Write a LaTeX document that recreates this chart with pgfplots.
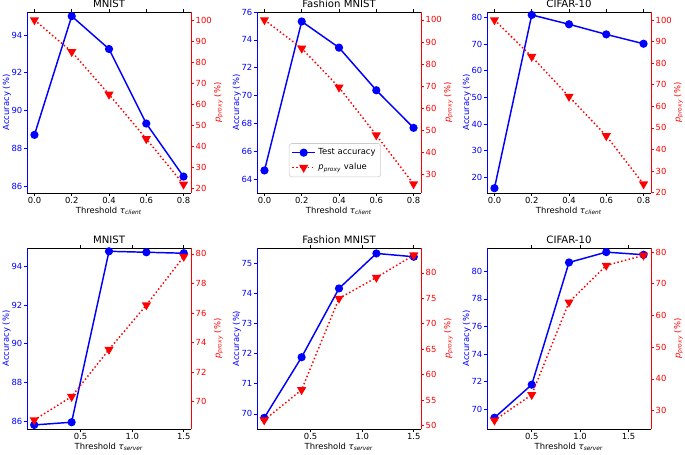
\documentclass[border=0pt]{standalone}
\usepackage{fontspec}
\setmainfont{DejaVu Sans}
\usepackage{pgfplots}
\pgfplotsset{compat=1.18}

\newcommand{\tk}{\fontsize{6.3}{7.5}\selectfont}
\newcommand{\ttl}{\fontsize{7.6}{9}\selectfont}
\newcommand{\pp}{\textit{p}\textsubscript{\textit{proxy}}}
\newcommand{\thr}[1]{\textit{τ}\textsubscript{\textit{#1}}}

\pgfplotsset{
  panel/.style={
    scale only axis, width=123pt, height=135.75pt, anchor=south west,
    tick align=outside, major tick length=2.3pt,
    every tick/.style={line width=0.5pt},
    /pgf/number format/assume math mode=true,
    tick label style={font=\tk, inner sep=1pt},
    every axis title shift=0pt,
    title style={at={(0.5,1)}, anchor=base, yshift=3.6pt, font=\ttl, inner sep=0pt},
    clip=false,
  },
  leftax/.style={
    panel, axis x line*=box, axis y line*=left,
    axis line style={line width=0.5pt},
    y axis line style={blue},
    ytick style={blue}, yticklabel style={text=blue},
    ylabel={Accuracy (\%)},
    ylabel style={at={(rel axis cs:0,0.5)}, anchor=base, yshift=13.5pt,
      inner sep=0pt, font=\tk, text=blue},
    xlabel style={at={(rel axis cs:0.5,0)}, anchor=base, yshift=-15pt,
      inner sep=0pt, font=\tk},
  },
  rightax/.style={
    panel, axis x line=none, axis y line*=right,
    axis line style={line width=0.5pt},
    y axis line style={red},
    ytick style={red}, yticklabel style={text=red},
    ylabel={\pp{} (\%)},
    ylabel style={at={(rel axis cs:1,0.5)}, anchor=base, yshift=-22pt,
      inner sep=0pt, font=\tk, text=red},
  },
  toprow/.style={xmin=-0.04, xmax=0.84, xtick={0,0.2,...,0.8},
    xticklabel style={/pgf/number format/.cd, fixed, fixed zerofill, precision=1},
    xlabel={Threshold \thr{client}}},
  botrow/.style={xtick={0.5,1.0,1.5},
    xticklabel style={/pgf/number format/.cd, fixed, fixed zerofill, precision=1},
    xlabel={Threshold \thr{server}}},
  acc/.style={blue, line width=1.1pt, mark=*, mark size=2.5pt},
  prx/.style={red, line width=1.1pt, dash pattern=on 1.1pt off 1.8pt,
    mark=triangle*, mark size=2.9pt, mark options={solid, rotate=180}},
}

\begin{document}
\begin{tikzpicture}
\useasboundingbox (0,0) rectangle (513.75pt,340.5pt);

% ---- top row: client threshold ----
\begin{axis}[leftax, toprow, at={(20.25pt,195.75pt)}, title={MNIST},
  ymin=85.63, ymax=95.22, ytick={86,88,...,94}]
\addplot[acc] coordinates {(0,88.71) (0.2,95.0) (0.4,93.26) (0.6,89.31) (0.8,86.5)};
\end{axis}
\begin{axis}[rightax, toprow, at={(20.25pt,195.75pt)}, xlabel={},
  ymin=17.9, ymax=103.8, ytick={20,30,...,100}]
\addplot[prx] coordinates {(0,100) (0.2,84.9) (0.4,64.7) (0.6,43.6) (0.8,22.0)};
\end{axis}

\begin{axis}[leftax, toprow, at={(192.75pt,195.75pt)}, title={Fashion MNIST},
  ymin=63, ymax=76, ytick={64,66,...,76}]
\addplot[acc] coordinates {(0,64.62) (0.2,75.32) (0.4,73.44) (0.6,70.38) (0.8,67.68)};
\end{axis}
\begin{axis}[rightax, toprow, at={(192.75pt,195.75pt)}, xlabel={},
  ymin=21.4, ymax=103.6, ytick={30,40,...,100},
  legend style={at={(0.475,0.088)}, anchor=south, draw=black!20, rounded corners=2pt,
    font=\tk, inner sep=1.8pt, row sep=1pt},
  legend cell align=left]
\addlegendimage{acc}
\addlegendentry{Test accuracy}
\addplot[prx] coordinates {(0,100) (0.2,87.1) (0.4,69.4) (0.6,47.7) (0.8,25.5)};
\addlegendentry{\pp{} value}
\end{axis}

\begin{axis}[leftax, toprow, at={(365.25pt,195.75pt)}, title={CIFAR-10},
  ymin=14.1, ymax=82.0, ytick={20,30,...,80}]
\addplot[acc] coordinates {(0,15.9) (0.2,80.9) (0.4,77.4) (0.6,73.6) (0.8,70.1)};
\end{axis}
\begin{axis}[rightax, toprow, at={(365.25pt,195.75pt)}, xlabel={},
  ymin=19.8, ymax=103.7, ytick={20,30,...,100}]
\addplot[prx] coordinates {(0,100) (0.2,83.0) (0.4,64.5) (0.6,46.3) (0.8,23.9)};
\end{axis}

% ---- bottom row: server threshold ----
\begin{axis}[leftax, botrow, at={(20.25pt,18.75pt)}, title={MNIST},
  xmin=-0.02, xmax=1.57, ymin=85.6, ymax=94.94, ytick={86,88,...,94}]
\addplot[acc] coordinates {(0.05,85.81) (0.4125,85.95) (0.775,94.77) (1.1375,94.72) (1.5,94.67)};
\end{axis}
\begin{axis}[rightax, botrow, at={(20.25pt,18.75pt)}, xlabel={},
  xmin=-0.02, xmax=1.57, ymin=68.15, ymax=80.4, ytick={70,72,...,80}]
\addplot[prx] coordinates {(0.05,68.76) (0.4125,70.34) (0.775,73.53) (1.1375,76.54) (1.5,79.82)};
\end{axis}

\begin{axis}[leftax, botrow, at={(192.75pt,18.75pt)}, title={Fashion MNIST},
  xmin=-0.02, xmax=1.57, ymin=69.5, ymax=75.5, ytick={70,71,...,75}]
\addplot[acc] coordinates {(0.05,69.87) (0.4125,71.88) (0.775,74.16) (1.1375,75.32) (1.5,75.21)};
\end{axis}
\begin{axis}[rightax, botrow, at={(192.75pt,18.75pt)}, xlabel={},
  xmin=-0.02, xmax=1.57, ymin=49.3, ymax=84.9, ytick={50,55,...,80}]
\addplot[prx] coordinates {(0.05,51.05) (0.4125,57.0) (0.775,74.98) (1.1375,79.1) (1.5,83.5)};
\end{axis}

\begin{axis}[leftax, botrow, at={(365.25pt,18.75pt)}, title={CIFAR-10},
  xmin=0.038, xmax=1.732, ymin=68.55, ymax=81.7, ytick={70,72,...,80}]
\addplot[acc] coordinates {(0.115,69.37) (0.5,71.77) (0.885,80.65) (1.27,81.4) (1.655,81.21)};
\end{axis}
\begin{axis}[rightax, botrow, at={(365.25pt,18.75pt)}, xlabel={},
  xmin=0.038, xmax=1.732, ymin=24.2, ymax=81.3, ytick={30,40,...,80}]
\addplot[prx] coordinates {(0.115,26.95) (0.5,35.0) (0.885,64.2) (1.27,75.8) (1.655,79.0)};
\end{axis}
\end{tikzpicture}
\end{document}
